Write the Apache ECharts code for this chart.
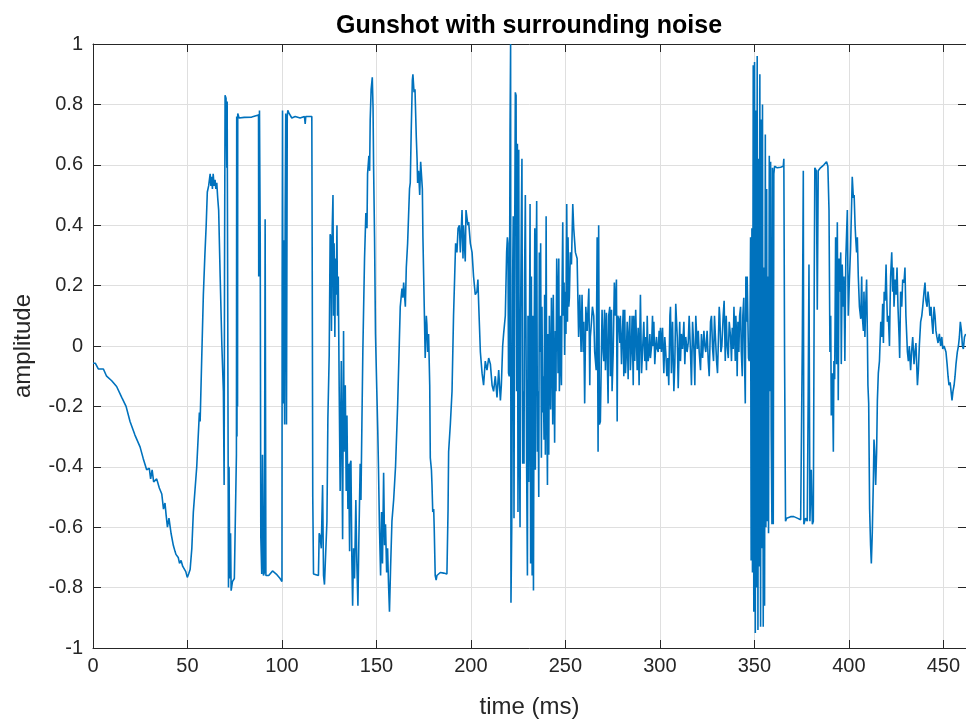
<!DOCTYPE html>
<html>
<head>
<meta charset="utf-8">
<script src="https://cdn.jsdelivr.net/npm/echarts/dist/echarts.min.js"></script>
<style>
html,body{margin:0;padding:0;background:#ffffff;}
#chart{width:966px;height:720px;}
</style>
</head>
<body>
<div id="chart"></div>
<script>
// ---- tick labels ----
const xTicks = [0, 50, 100, 150, 200, 250, 300, 350, 400, 450];
const yTicks = [-1, -0.8, -0.6, -0.4, -0.2, 0, 0.2, 0.4, 0.6, 0.8, 1];

// ---- signal, [time (ms), amplitude] ----
const leadIn = [[0,-0.057],[1.2,-0.057],[2.8,-0.076],[5.5,-0.076],[7.2,-0.10],[9.9,-0.115],[12.5,-0.134],[15.2,-0.17],[17.5,-0.2],[19.6,-0.25],[22.2,-0.295],[24.9,-0.334],[26.6,-0.373],[28.4,-0.41],[29.8,-0.405],[30.5,-0.44],[31.3,-0.41],[32.1,-0.45],[33.7,-0.44],[35.1,-0.47],[36.4,-0.49],[37.3,-0.54],[38.1,-0.52],[38.7,-0.56],[39.4,-0.6],[40.2,-0.57],[41.3,-0.62],[42.5,-0.66],[43.4,-0.68],[43.9,-0.69],[44.6,-0.685],[45.1,-0.70],[45.8,-0.72],[46.6,-0.71],[47.5,-0.73],[48.3,-0.735],[49.1,-0.747],[49.9,-0.766],[50.6,-0.755],[51.4,-0.74],[52.3,-0.67],[53.1,-0.55],[54.0,-0.55],[54.9,-0.4],[55.6,-0.4],[56.3,-0.22]];

const firstPulse = [[56.7,-0.25],[57.5,-0.05],[58.4,0.17],[59.2,0.3],[59.9,0.40],[60.5,0.51],[61.2,0.53],[62.0,0.57],[62.4,0.53],[62.8,0.56],[63.2,0.52],[63.6,0.57],[64.1,0.53],[64.6,0.55],[65.0,0.52],[65.5,0.54],[66.0,0.49],[66.5,0.45],[67.3,0.23],[68.2,0.0],[69.0,-0.15],[69.4,-0.46]];

const clippedBursts = [[69.6,0.23],[69.9,0.83],[70.4,0.82],[70.8,0.59],[71.0,0.81],[71.3,0.13],[71.7,-0.8],[72.0,-0.4],[72.4,-0.77],[72.8,-0.62],[73.1,-0.81],[73.8,-0.78],[74.8,-0.77],[75.6,-0.77],[75.9,-0.36],[76.05,0.76],[76.2,-0.3],[76.35,0.76],[76.5,-0.2],[76.6,0.77],[77.3,0.755],[80,0.757],[84,0.758],[87.6,0.765],[87.7,0.23],[88.1,0.78],[88.5,0.35],[88.8,-0.63],[89.3,-0.755],[89.7,-0.36],[90.2,-0.76],[90.7,-0.75],[91.1,0.42],[91.5,-0.76],[93,-0.76],[95,-0.745],[97,-0.755],[99,-0.77],[100,-0.78],[100.1,0.18],[100.3,0.78],[100.6,-0.19],[101.0,0.35],[101.4,-0.26],[101.7,0.44],[102.0,0.77],[102.4,-0.26],[102.8,0.76],[103.1,0.78],[103.8,0.77],[105.2,0.755],[107.0,0.76],[109.6,0.755],[111.9,0.76],[112.3,0.735],[112.6,0.76],[115.8,0.76],[116.0,0.31],[116.3,-0.5],[116.7,-0.755],[119.3,-0.76],[119.7,-0.62],[120.2,-0.63],[120.8,-0.67],[121.5,-0.46],[122.0,-0.76],[122.5,-0.79],[123.4,-0.79]];

const midBursts = [[123.8,-0.58],[124.3,-0.24],[125.0,-0.03],[125.5,0.37],[125.9,0.36],[126.2,0.05],[126.6,0.39],[127.0,0.5],[127.3,0.1],[127.6,0.34],[128.0,0.03],[128.3,0.29],[128.7,0.17],[129.1,0.40],[129.4,0.1],[129.8,0.23],[130.3,-0.15],[130.8,-0.48],[131.4,-0.05],[131.7,-0.28],[132.1,-0.64],[132.6,0.05],[132.9,-0.35],[133.5,-0.13],[134.0,-0.48],[134.4,-0.23],[134.9,-0.54],[135.3,-0.39],[135.8,-0.68],[136.1,-0.39],[136.5,-0.38],[137.0,-0.71],[137.4,-0.86],[137.9,-0.67],[138.4,-0.77],[139.1,-0.51],[139.6,-0.71],[140.2,-0.86],[140.7,-0.64],[141.4,-0.39],[141.8,-0.51],[142.3,-0.26],[142.8,-0.02],[143.2,0.12],[143.7,0.29],[144.4,0.44],[145.0,0.39],[145.3,0.57],[146.0,0.63],[146.4,0.58],[146.7,0.75],[147.2,0.85],[147.8,0.89],[148.2,0.79],[148.5,0.59],[149.0,0.36],[149.5,0.04],[150.2,-0.15],[150.7,-0.28],[151.1,-0.41],[151.6,-0.6],[152.2,-0.76],[152.7,-0.55],[153.2,-0.72],[153.8,-0.42],[154.3,-0.66],[154.8,-0.59],[155.4,-0.75],[155.9,-0.67],[156.4,-0.79],[156.9,-0.88],[157.5,-0.73],[158.2,-0.58],[159.1,-0.51],[160.1,-0.4],[161.2,-0.2],[162.1,0.01],[162.6,0.13],[163.5,0.19],[164.0,0.16],[164.4,0.21],[165.3,0.13],[165.8,0.26],[166.5,0.34],[167.0,0.43],[167.5,0.52],[167.9,0.54],[168.4,0.71],[169.0,0.88],[169.3,0.90],[169.9,0.84],[170.4,0.85],[171.1,0.69],[171.5,0.62],[171.8,0.54],[172.3,0.58],[172.9,0.5],[173.4,0.61],[173.9,0.56],[174.3,0.52],[174.6,0.36],[175.3,0.13],[175.8,-0.04],[176.4,0.1],[176.7,0.07],[177.1,-0.02],[177.6,0.04],[178.2,-0.13],[178.5,-0.37],[179.1,-0.41],[179.4,-0.46],[179.8,-0.55],[180.3,-0.54],[180.6,-0.61],[181.1,-0.76],[181.6,-0.775],[182.0,-0.76],[182.9,-0.755],[183.8,-0.75],[185.6,-0.752],[187.3,-0.755],[187.9,-0.54],[188.2,-0.35],[189.1,-0.26],[190.0,-0.15],[190.8,0.1],[191.4,0.23],[191.9,0.34],[192.6,0.31],[193.2,0.39],[193.9,0.40],[194.4,0.31],[195.3,0.45],[195.8,0.29],[196.1,0.40],[197.0,0.28],[197.4,0.45],[197.9,0.45],[198.4,0.40],[198.8,0.41],[199.7,0.34],[200.6,0.31],[201.4,0.23],[202.3,0.17],[203.2,0.18],[203.7,0.22],[204.1,0.14],[205.0,-0.02],[205.9,-0.09],[206.7,-0.13],[207.6,-0.05],[208.5,-0.08],[209.4,-0.04],[210.3,-0.06],[211.2,-0.13],[212.0,-0.15],[212.9,-0.1],[213.8,-0.17],[214.7,-0.08],[215.6,-0.18],[216.1,-0.13],[216.8,0.0]];

const firstShot = [[217.3,0.04],[218.2,0.1],[218.9,0.31],[219.3,0.36],[219.6,0.34],[219.9,-0.09],[220.3,-0.1],[220.7,0.71],[221.0,1.0],[221.2,-0.85],[221.6,-0.6],[222.1,0.23],[222.4,0.43],[222.8,-0.57],[223.2,0.41],[223.5,0.84],[223.9,0.83],[224.2,-0.15],[224.6,0.67],[224.9,-0.55],[225.3,0.65],[225.6,-0.28],[226.0,-0.6],[226.3,0.1],[226.7,0.43],[227.0,0.62],[227.4,-0.39],[227.7,-0.15],[228.1,-0.39],[228.4,0.23],[228.8,0.5],[229.1,0.1],[229.5,-0.41],[229.9,-0.76],[230.2,0.1],[230.6,-0.45],[230.9,-0.08],[231.3,0.47],[231.6,-0.72],[232.0,0.23],[232.4,-0.76],[232.7,0.1],[233.1,-0.81],[233.4,-0.09],[233.8,0.39],[234.1,-0.41],[234.5,0.23],[234.8,0.48],[235.2,-0.35],[235.5,-0.15],[235.9,-0.5],[236.2,0.31],[236.6,-0.02],[236.9,0.34],[237.3,-0.37],[237.6,0.13],[238.0,-0.22],[238.3,-0.1],[238.7,-0.31],[239.0,0.17],[239.4,-0.36],[239.8,0.43],[240.1,-0.15],[240.5,-0.46],[240.8,0.04],[241.2,-0.36],[241.5,0.1],[241.9,-0.1],[242.2,-0.21],[242.6,0.16],[242.9,0.03],[243.3,-0.26],[243.6,0.17],[244.0,-0.09],[244.3,-0.32],[244.7,0.05],[245.0,-0.15],[245.4,0.29],[245.7,0.19],[246.1,-0.09],[246.5,0.29],[246.8,-0.15],[247.2,-0.04],[247.5,0.1],[247.9,-0.13],[248.2,0.17],[248.6,0.41],[248.9,0.1],[249.3,0.21],[249.6,-0.03],[250.0,0.18],[250.3,0.04],[250.7,0.47],[251.1,0.08],[251.4,0.36],[251.8,0.13],[252.1,0.16],[252.6,0.31]];

const noiseFloor = [[253.2,0.27],[253.9,0.47],[254.4,0.39],[255.3,0.31],[256.2,0.29],[257.0,0.03],[257.6,0.17],[258.3,-0.02],[258.8,0.17],[259.4,-0.02],[259.7,0.08],[260.2,-0.19],[260.8,0.13],[261.5,0.05],[262.4,0.19],[262.9,-0.13],[263.2,0.03],[263.8,0.08],[264.3,0.13],[265.0,0.1],[265.5,-0.02],[266.3,-0.08],[266.8,0.36],[267.3,-0.35],[267.6,0.40],[268.0,-0.26],[268.5,-0.25],[269.4,0.12],[270.0,-0.02],[270.3,-0.05],[270.7,0.12],[271.2,-0.08],[271.7,0.11],[272.1,-0.02],[272.6,-0.19],[272.9,0.1],[273.5,0.13],[273.8,-0.1],[274.4,0.12],[274.7,-0.15],[275.3,-0.02],[275.9,0.21],[276.5,0.1],[277.0,0.22],[277.4,-0.25],[277.7,0.1],[278.2,0.09],[278.8,0.01],[279.1,0.1],[279.7,-0.06],[280.0,0.01],[280.6,0.12],[280.9,-0.1],[281.4,0.12],[281.8,-0.09],[282.3,-0.02],[282.7,0.08],[283.2,-0.11],[283.5,0.03],[284.1,0.1],[284.4,-0.08],[285.0,0.01],[285.3,0.1],[285.9,-0.13],[286.2,0.1],[286.7,-0.05],[287.2,0.12],[288.0,-0.08],[288.5,0.06],[289.0,-0.13],[289.7,0.17],[290.3,-0.09],[290.8,-0.02],[291.5,0.08],[292.0,-0.05],[292.5,0.03],[292.9,-0.08],[293.3,0.1],[293.8,-0.05],[294.3,-0.02],[294.7,0.04],[295.0,-0.04],[295.6,0.0],[296.1,0.1],[296.4,0.0],[296.8,0.08],[297.3,-0.06],[297.8,0.0],[298.2,0.03],[298.6,-0.01],[299.1,-0.02],[299.6,0.05],[300.0,-0.01],[300.3,0.06],[300.8,-0.02],[301.4,0.06],[302.1,-0.09],[302.6,0.03],[303.1,-0.02],[303.7,-0.1],[304.2,-0.04],[304.7,-0.13],[305.3,0.1],[305.6,0.13],[306.1,-0.09],[306.7,0.08],[307.4,-0.15],[307.9,-0.06],[308.4,0.14],[309.2,0.03],[309.7,-0.14],[310.2,0.0],[310.5,0.08],[310.9,-0.05],[311.4,0.04],[312.0,-0.01],[312.7,0.08],[313.2,-0.06],[313.7,0.03],[314.4,-0.02],[315.0,0.01],[315.5,0.1],[316.2,-0.02],[316.7,-0.13],[317.3,0.08],[318.0,-0.01],[318.5,-0.13],[319.0,0.1],[319.8,-0.01],[320.3,0.05],[320.8,-0.02],[321.5,-0.08],[322.0,0.04],[322.6,-0.04],[323.3,0.05],[323.8,0.0],[324.3,-0.02],[325.0,0.05],[325.6,-0.05],[326.1,-0.1],[326.8,0.08],[327.3,0.1],[327.9,-0.01],[328.4,-0.05],[328.9,0.1],[329.4,0.03],[330.0,-0.05],[330.5,-0.09],[331.0,0.03],[331.4,0.13],[331.7,0.1],[332.3,-0.02],[332.8,0.0],[333.5,0.1],[334.0,0.15],[334.6,-0.05],[335.1,0.1],[335.6,0.0],[336.2,-0.04],[336.7,0.08],[337.4,0.03],[337.9,-0.05],[338.3,0.06],[338.8,-0.01],[339.2,0.13],[339.5,0.05],[339.9,-0.05],[340.2,0.1],[340.6,0.03],[340.9,-0.1],[341.3,0.08],[341.8,-0.02],[342.2,0.1],[342.7,0.13],[343.1,-0.02],[343.6,-0.1],[343.9,0.1],[344.4,0.16],[344.8,-0.05],[345.2,-0.19],[345.5,0.23],[345.9,0.08],[346.2,0.23],[346.6,0.23],[346.9,-0.04],[347.3,-0.05],[347.6,-0.02]];

const secondShot = [[348.0,0.36],[348.3,-0.71],[348.7,0.39],[349.0,-0.75],[349.4,0.93],[349.7,-0.88],[350.1,0.94],[350.5,-0.95],[350.8,0.78],[351.2,-0.8],[351.5,0.96],[351.9,-0.94],[352.2,0.62],[352.6,-0.73],[352.9,0.9],[353.3,-0.93],[353.6,0.75],[354.0,-0.67],[354.3,0.8],[354.7,-0.93],[355.0,0.26],[355.4,-0.86],[355.8,0.7],[356.1,-0.6],[356.5,0.52],[356.8,-0.58],[357.2,0.23],[357.5,-0.62],[357.9,0.63],[358.2,-0.15],[358.6,0.61],[358.9,-0.28],[359.3,-0.59],[359.6,0.59],[360.0,-0.59],[360.3,0.57],[360.7,0.595],[362.1,0.59],[363.9,0.592],[365.3,0.595],[365.6,0.62],[366.0,-0.05],[366.5,-0.58],[367.1,-0.57]];

const tail = [[367.4,-0.57],[369.2,-0.565],[370.9,-0.565],[372.7,-0.57],[374.5,-0.575],[375.0,-0.58],[375.4,0.03],[375.9,0.58],[376.2,-0.59],[377.1,-0.57],[378.0,-0.58],[378.5,-0.15],[378.9,0.27],[379.4,-0.58],[380.1,-0.41],[380.7,-0.59],[381.2,-0.58],[381.7,0.23],[382.0,0.59],[382.8,0.58],[383.3,0.12],[383.8,0.58],[385.0,0.59],[386.8,0.6],[388.2,0.61],[388.9,0.595],[389.5,0.45],[390.0,-0.02],[390.4,0.1],[390.7,-0.23],[391.3,-0.09],[391.8,-0.35],[392.1,-0.05],[392.5,-0.11],[393.0,0.36],[393.5,-0.06],[393.9,0.41],[394.4,-0.18],[394.8,0.29],[395.3,0.18],[395.7,0.31],[396.0,-0.06],[396.5,0.27],[397.1,0.13],[397.4,0.23],[397.9,-0.05],[398.4,0.29],[399.2,0.45],[399.7,0.1],[400.3,0.22],[400.9,0.32],[401.8,0.56],[402.4,0.49],[402.8,0.5],[403.3,0.4],[403.6,0.36],[404.1,0.31],[404.5,0.36],[405.0,0.23],[405.6,0.13],[406.3,0.09],[406.8,0.23],[407.1,0.1],[407.7,0.05],[408.0,0.18],[408.5,0.03],[408.9,0.13],[409.4,0.22],[409.8,0.04],[410.1,-0.13],[410.5,-0.19],[411.0,-0.54],[411.5,-0.66],[411.9,-0.72],[412.4,-0.62],[413.0,-0.44],[413.3,-0.31],[413.7,-0.35],[414.2,-0.46],[414.7,-0.35],[415.1,-0.18],[415.6,-0.09],[416.2,-0.05],[416.9,0.08],[417.4,0.03],[417.9,0.14],[418.3,0.01],[418.7,0.18],[419.2,0.15],[419.7,0.27],[420.0,0.18],[420.4,0.08],[420.9,0.1],[421.5,0.0],[421.8,0.13],[422.1,0.23],[422.7,0.31],[423.2,0.18],[423.6,0.26],[423.9,0.13],[424.5,0.22],[425.0,0.17],[425.5,0.26],[426.0,0.13],[426.6,0.03],[426.9,-0.04],[427.4,0.18],[428.0,0.13],[428.5,0.22],[429.2,0.21],[429.7,0.26],[430.2,0.1],[431.0,-0.02],[431.5,-0.05],[432.0,0.0],[432.7,-0.08],[433.2,-0.02],[433.8,0.03],[434.5,-0.06],[435.0,-0.02],[435.5,0.01],[436.3,-0.13],[436.8,-0.08],[437.3,0.0],[438.0,0.08],[438.6,0.1],[439.1,0.13],[439.8,0.18],[440.3,0.21],[440.8,0.15],[441.4,0.13],[441.9,0.18],[442.4,0.15],[442.9,0.1],[443.5,0.13],[444.0,0.08],[444.5,0.04],[445.1,0.13],[445.6,0.1],[446.1,0.05],[446.6,0.03],[447.2,0.01],[447.9,0.04],[448.6,0.0],[449.2,0.03],[449.7,-0.01],[450.4,0.0],[450.9,-0.01],[451.4,-0.02],[452.0,-0.06],[452.5,-0.1],[453.0,-0.13],[453.6,-0.12],[454.1,-0.15],[454.6,-0.18],[455.1,-0.15],[455.7,-0.13],[456.2,-0.1],[456.7,-0.06],[457.4,-0.02],[458.0,0.0],[458.5,0.03],[459.0,0.08],[459.6,0.05],[460.1,0.0],[460.6,-0.01],[461.2,0.03],[461.8,0.04]];

const signal = [].concat(leadIn, firstPulse, clippedBursts, midBursts, firstShot, noiseFloor, secondShot, tail);

const FONT = "'Liberation Sans', Arial, Helvetica, sans-serif";
const INK = '#262626';
const X_MAX = 462;

const chart = echarts.init(document.getElementById('chart'), null, {renderer: 'canvas'});

function boxAxis(extra) {
  return Object.assign({
    type: 'value',
    axisLine: {show: true, onZero: false, lineStyle: {color: INK, width: 1}},
    axisTick: {show: true, inside: true, length: 8, lineStyle: {color: INK, width: 1}},
    splitLine: {show: false},
    axisLabel: {show: false}
  }, extra);
}

chart.setOption({
  animation: false,
  backgroundColor: '#ffffff',
  title: {
    text: 'Gunshot with surrounding noise',
    left: 524,
    top: 9,
    textAlign: 'center',
    textStyle: {fontFamily: FONT, fontSize: 25, fontWeight: 'bold', color: '#000000'}
  },
  grid: {left: 93, right: 0, top: 44, bottom: 72, containLabel: false, outerBoundsMode: 'none'},
  xAxis: [
    boxAxis({
      position: 'bottom', min: 0, max: X_MAX, interval: 50,
      name: 'time (ms)', nameLocation: 'middle', nameGap: 47,
      nameTextStyle: {fontFamily: FONT, fontSize: 24, color: INK},
      splitLine: {show: true, lineStyle: {color: '#dfdfdf', width: 1}},
      axisLabel: {
        show: true, margin: 8, fontFamily: FONT, fontSize: 20, color: INK,
        showMaxLabel: false,
        formatter: v => xTicks.indexOf(Math.round(v)) >= 0 ? String(Math.round(v)) : ''
      }
    }),
    boxAxis({position: 'top', min: 0, max: X_MAX, interval: 50})
  ],
  yAxis: [
    boxAxis({
      position: 'left', min: yTicks[0], max: yTicks[yTicks.length - 1], interval: 0.2,
      name: 'amplitude', nameLocation: 'middle', nameGap: 58,
      nameTextStyle: {fontFamily: FONT, fontSize: 24, color: INK},
      splitLine: {show: true, lineStyle: {color: '#dfdfdf', width: 1}},
      axisLabel: {
        show: true, margin: 10, fontFamily: FONT, fontSize: 20, color: INK,
        formatter: v => String(Math.round(v * 10) / 10)
      }
    }),
    boxAxis({position: 'right', min: yTicks[0], max: yTicks[yTicks.length - 1], interval: 0.2})
  ],
  series: [{
    type: 'line',
    data: signal,
    xAxisIndex: 0,
    yAxisIndex: 0,
    showSymbol: false,
    symbol: 'none',
    sampling: null,
    lineStyle: {color: '#0072BD', width: 1.6},
    clip: true
  }]
});
</script>
</body>
</html>
